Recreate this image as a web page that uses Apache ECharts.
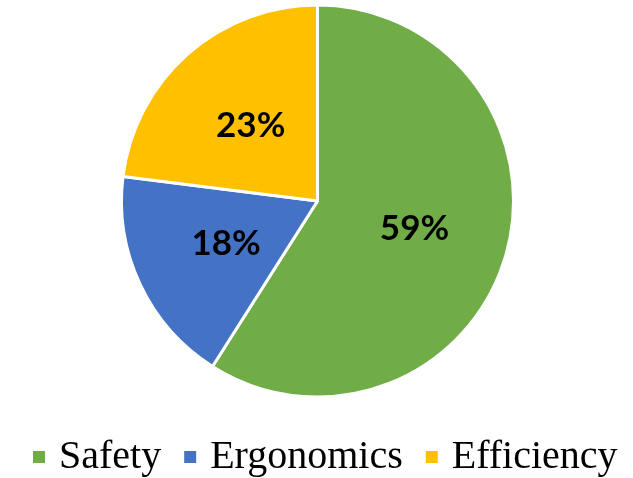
<!DOCTYPE html>
<html><head><meta charset="utf-8">
<script src="https://cdn.jsdelivr.net/npm/echarts@6/dist/echarts.min.js"></script>
<style>html,body{margin:0;padding:0;background:#fff}#c{width:633px;height:478px}</style>
</head><body><div id="c"></div>
<script>
const categories = ["Safety", "Ergonomics", "Efficiency"];
const values = [59, 18, 23];
const colors = ["#70AD47", "#4472C4", "#FFC000"];

const chart = echarts.init(document.getElementById('c'), null, {renderer: 'canvas'});
chart.setOption({
  animation: false,
  color: colors,
  legend: {
    data: categories,
    left: 26,
    top: 432,
    icon: 'rect',
    itemWidth: 14,
    itemHeight: 14,
    itemGap: 21,
    textStyle: {fontFamily: 'Liberation Serif', fontSize: 40, color: '#000', padding: [0, 0, 0, 8]}
  },
  series: [{
    type: 'pie',
    center: [317.5, 201],
    radius: [0, 196],
    startAngle: 90,
    clockwise: true,
    data: categories.map((c, i) => ({name: c, value: values[i]})),
    itemStyle: {borderColor: '#fff', borderWidth: 3},
    label: {
      position: 'inside',
      formatter: p => p.value + '%',
      fontFamily: 'Lato',
      fontWeight: 'bold',
      fontSize: 35,
      color: '#000'
    },
    labelLine: {show: false},
    emphasis: {disabled: true}
  }]
});
</script></body></html>
